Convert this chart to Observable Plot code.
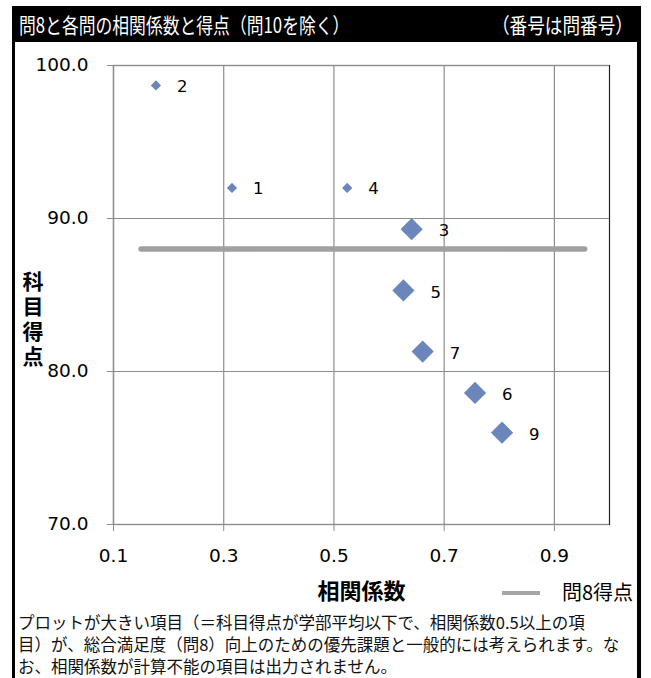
<!DOCTYPE html>
<html>
<head>
<meta charset="utf-8">
<script src="https://cdn.jsdelivr.net/npm/d3@7"></script>
<script src="https://cdn.jsdelivr.net/npm/@observablehq/plot@0.6"></script>
<style>
  html, body { margin: 0; padding: 0; background: #fff; }
  body { width: 651px; height: 678px; overflow: hidden; position: relative; }
  #frame {
    position: absolute; left: 12px; top: 6px; width: 622px; height: 700px;
    border-left: 3px solid #000; border-right: 4px solid #000; background: #fff;
  }
  #title {
    height: 36px; background: #000; color: #fff; position: relative;
    font-family: "Noto Sans CJK JP", sans-serif; font-size: 21px; line-height: 36px;
    white-space: nowrap; overflow: hidden;
  }
  #title .l { position: absolute; left: 4px; top: 0; transform: scaleX(0.8); transform-origin: left center; }
  #title .r { position: absolute; right: 4px; top: 0; transform: scaleX(0.84); transform-origin: right center; }
  #chart { height: 565px; }
  #chart svg { display: block; }
  #caption {
    margin-top: 4px; padding-left: 3px;
    font-family: "Noto Sans CJK JP", sans-serif; font-size: 16.5px; line-height: 22px; color: #111;
    white-space: nowrap;
  }
  #ytitle {
    position: absolute; left: 22px; top: 271px; width: 21px;
    writing-mode: vertical-rl; text-orientation: upright;
    font-family: "Noto Sans CJK JP", sans-serif; font-weight: bold; font-size: 21px; line-height: 21px;
    letter-spacing: 4px; color: #000; white-space: nowrap;
  }
  #legend { position: absolute; left: 487px; top: 574px; height: 24px; }
  #legend .sw { position: absolute; left: 0; top: 11px; width: 38px; height: 4px; background: #a6a6a6; }
  #legend .tx { position: absolute; left: 60px; top: 0; font-family: "Noto Sans CJK JP", sans-serif; font-size: 20px; line-height: 24px; color: #000; white-space: nowrap; }
</style>
</head>
<body>
<div id="frame">
  <div id="title"><span class="l">問8と各問の相関係数と得点（問10を除く）</span><span class="r">（番号は問番号）</span></div>
  <div id="chart"></div>
  <div id="legend"><div class="sw"></div><div class="tx"></div></div>
  <div id="caption"></div>
</div>
<div id="ytitle"></div>
<script>
// ---- data ----
const questions = ["1", "2", "3", "4", "5", "6", "7", "9"];
const correlation = [0.315, 0.177, 0.641, 0.524, 0.626, 0.756, 0.661, 0.805];
const score = [92.0, 98.7, 89.3, 92.0, 85.3, 78.6, 81.3, 76.0];
const isLarge = [false, false, true, false, true, true, true, true];
const q8LineX = [0.15, 0.955];
const q8Score = 88.0;
const xTicks = [0.1, 0.3, 0.5, 0.7, 0.9];
const yTicks = [70, 80, 90, 100];
const xTickLabels = ["0.1", "0.3", "0.5", "0.7", "0.9"];
const yTickLabels = ["70.0", "80.0", "90.0", "100.0"];
const xDomain = [0.1, 1.0];
const yDomain = [70, 100];
const xTitle = "相関係数";
const yTitle = "科目得点";
const legendLabel = "問8得点";
const captionLines = [
  "プロットが大きい項目（＝科目得点が学部平均以下で、相関係数0.5以上の項",
  "目）が、総合満足度（問8）向上のための優先課題と一般的には考えられます。な",
  "お、相関係数が計算不能の項目は出力されません。"
];

const points = questions.map((q, i) => ({q, x: correlation[i], y: score[i], big: isLarge[i]}));
const q8Line = q8LineX.map(x => ({x, y: q8Score}));
const xTickData = xTicks.map((v, i) => ({v, label: xTickLabels[i]}));
const yTickData = yTicks.map((v, i) => ({v, label: yTickLabels[i]}));

const blue = "#6a86bb";
const gridGray = "#8c8c8c";
const numFont = "DejaVu Sans, sans-serif";
const cjkFont = "Noto Sans CJK JP, sans-serif";

const chart = Plot.plot({
  width: 622,
  height: 565,
  marginLeft: 98,
  marginRight: 28,
  marginTop: 23,
  marginBottom: 83,
  style: {fontFamily: numFont, fontSize: "18px", color: "#000", background: "#fff"},
  x: {domain: xDomain},
  y: {domain: yDomain},
  marks: [
    Plot.frame({stroke: "#222", strokeWidth: 1.2}),
    Plot.gridX(xTicks, {stroke: gridGray, strokeOpacity: 1, strokeWidth: 1.2}),
    Plot.gridY(yTicks, {stroke: gridGray, strokeOpacity: 1, strokeWidth: 1.2}),
    Plot.ruleY([yDomain[0]], {stroke: gridGray, strokeWidth: 1.2}),
    Plot.axisX(xTicks, {tickSize: 7, stroke: gridGray, tickFormat: () => "", label: null}),
    Plot.axisY(yTicks, {tickSize: 6, stroke: gridGray, tickFormat: () => "", label: null}),
    Plot.text(xTickData, {x: "v", text: "label", frameAnchor: "bottom", dy: 24, lineAnchor: "top", fontFamily: numFont, fontSize: 18.5, fill: "#000"}),
    Plot.text(yTickData, {y: "v", text: "label", frameAnchor: "left", dx: -25, textAnchor: "end", lineAnchor: "middle", fontFamily: numFont, fontSize: 18.5, fill: "#000"}),
    Plot.line(q8Line, {x: "x", y: "y", stroke: "#a0a0a0", strokeWidth: 5.5, strokeLinecap: "round"}),
    Plot.dot(points.filter(d => !d.big), {x: "x", y: "y", symbol: "diamond2", r: 4.6, fill: blue, stroke: null}),
    Plot.dot(points.filter(d => d.big), {x: "x", y: "y", symbol: "diamond2", r: 10, fill: blue, stroke: null}),
    Plot.text(points.filter(d => !d.big), {x: "x", y: "y", text: "q", dx: 21, dy: 1, textAnchor: "start", fontFamily: numFont, fontSize: 16.5, fill: "#000"}),
    Plot.text(points.filter(d => d.big), {x: "x", y: "y", text: "q", dx: 27, dy: 2, textAnchor: "start", fontFamily: numFont, fontSize: 16.5, fill: "#000"}),
    Plot.text([xTitle], {frameAnchor: "bottom", dy: 74, fontFamily: cjkFont, fontSize: 22, fontWeight: "bold", fill: "#000"})
  ]
});
document.getElementById("chart").appendChild(chart);
document.getElementById("ytitle").textContent = yTitle;
document.querySelector("#legend .tx").textContent = legendLabel;
document.getElementById("caption").innerHTML = captionLines.map(s => `<div>${s}</div>`).join("");
</script>
</body>
</html>
